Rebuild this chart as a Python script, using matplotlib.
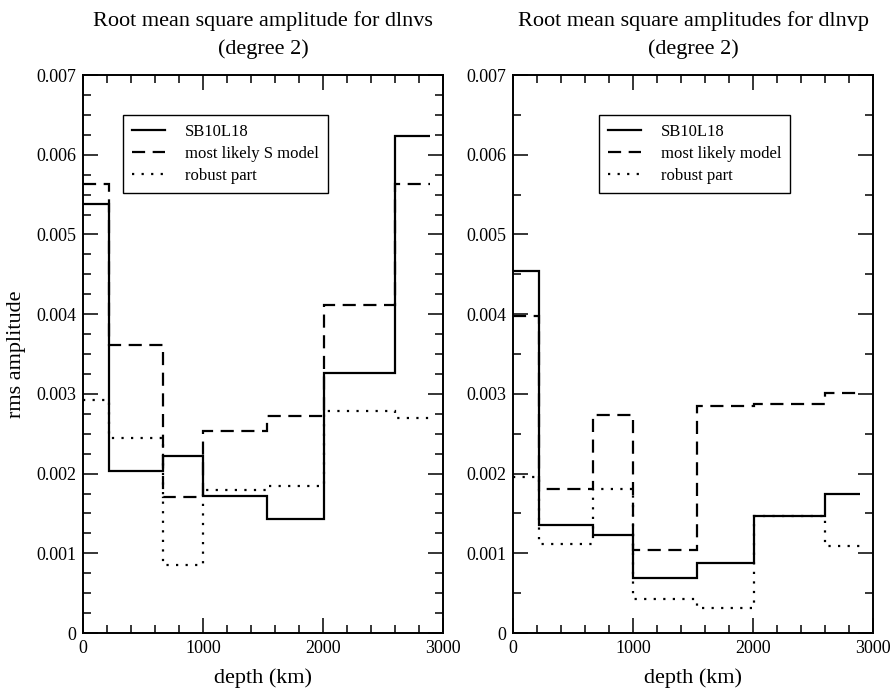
import numpy as np
import matplotlib
matplotlib.use("Agg")
import matplotlib.pyplot as plt
from matplotlib.ticker import MultipleLocator

plt.rcParams['font.family'] = ['Liberation Serif', 'DejaVu Serif']

# layer boundaries (km)
depth_edges = [0, 220, 670, 1000, 1530, 2010, 2600, 2890]

# dlnvs
s_sb10l18 = [0.00538, 0.00203, 0.00222, 0.00172, 0.00143, 0.00326, 0.00624]
s_likely = [0.00563, 0.00361, 0.00170, 0.00253, 0.00272, 0.00411, 0.00563]
s_robust = [0.00292, 0.00245, 0.00085, 0.00179, 0.00185, 0.00278, 0.00270]

# dlnvp
p_sb10l18 = [0.00454, 0.00136, 0.00123, 0.00069, 0.00088, 0.00147, 0.00174]
p_likely = [0.00398, 0.00181, 0.00273, 0.00104, 0.00285, 0.00287, 0.00301]
p_robust = [0.00196, 0.00112, 0.00181, 0.00043, 0.00031, 0.00147, 0.00109]

titles = ["Root mean square amplitude for dlnvs\n(degree 2)",
          "Root mean square amplitudes for dlnvp\n(degree 2)"]
legend_names = [["SB10L18", "most likely S model", "robust part"],
                ["SB10L18", "most likely model", "robust part"]]

dash = (0, (5.9, 3.4))
dots = (0, (1, 3.3))

fig = plt.figure(figsize=(8.93, 6.92), dpi=100)
ax1 = fig.add_axes([83/893, 1-633/692, 360/893, 558/692])
ax2 = fig.add_axes([513/893, 1-633/692, 360/893, 558/692])

panels = [(ax1, s_sb10l18, s_likely, s_robust, 40/360, 0.00025),
          (ax2, p_sb10l18, p_likely, p_robust, 86/360, 0.0005)]

for i, (ax, a, b, c, legx, yminor) in enumerate(panels):
    ax.stairs(a, depth_edges, baseline=None, color='black', lw=1.6, linestyle='-')
    ax.stairs(b, depth_edges, baseline=None, color='black', lw=1.6, linestyle=dash)
    ax.stairs(c, depth_edges, baseline=None, color='black', lw=1.6, linestyle=dots)
    h1, = ax.plot([], [], color='black', lw=1.6, linestyle='-')
    h2, = ax.plot([], [], color='black', lw=1.6, linestyle=dash)
    h3, = ax.plot([], [], color='black', lw=1.6, linestyle=dots)
    ax.set_xlim(0, 3000)
    ax.set_ylim(0, 0.007)
    ax.xaxis.set_major_locator(MultipleLocator(1000))
    ax.xaxis.set_minor_locator(MultipleLocator(200))
    ax.yaxis.set_major_locator(MultipleLocator(0.001))
    ax.yaxis.set_minor_locator(MultipleLocator(yminor))
    ax.yaxis.set_major_formatter(plt.FuncFormatter(lambda v, p: "0" if v == 0 else "%.3f" % v))
    ax.tick_params(which='both', direction='in', top=True, right=True, labelsize=13, width=1.1, pad=5)
    ax.tick_params(which='major', length=10.5)
    ax.tick_params(which='minor', length=5.8)
    for sp in ax.spines.values():
        sp.set_linewidth(1.4)
    ax.set_xlabel("depth (km)", fontsize=16, labelpad=8)
    ax.set_title(titles[i], fontsize=16, linespacing=1.6, pad=15)
    leg = ax.legend([h1, h2, h3], legend_names[i], loc='upper left',
                    bbox_to_anchor=(legx, 0.928), fontsize=12, handlelength=2.0,
                    fancybox=False, framealpha=1, edgecolor='black',
                    borderpad=0.52, labelspacing=0.36, handletextpad=1.2,
                    borderaxespad=0)
    leg.get_frame().set_linewidth(1.0)

ax1.set_ylabel("rms amplitude", fontsize=16, labelpad=7)

fig.savefig("out.png", dpi=100)
